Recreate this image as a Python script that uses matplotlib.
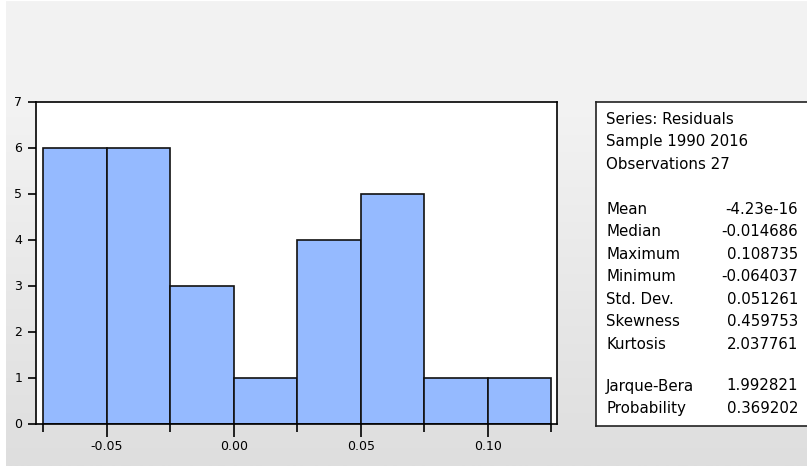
import matplotlib.pyplot as plt
import numpy as np
from matplotlib.colors import LinearSegmentedColormap

plt.rcParams['font.family'] = ['DejaVu Sans']

# histogram of residuals
bin_left = [-0.075, -0.050, -0.025, 0.000, 0.025, 0.050, 0.075, 0.100]
counts = [6, 6, 3, 1, 4, 5, 1, 1]
bin_width = 0.025

stat_names = ['Mean', 'Median', 'Maximum', 'Minimum', 'Std. Dev.',
              'Skewness', 'Kurtosis']
stat_values = ['-4.23e-16', '-0.014686', '0.108735', '-0.064037',
               '0.051261', '0.459753', '2.037761']
test_names = ['Jarque-Bera', 'Probability']
test_values = ['1.992821', '0.369202']
header = ['Series: Residuals', 'Sample 1990 2016', 'Observations 27']

W, H = 807, 466
fig = plt.figure(figsize=(W / 100, H / 100), dpi=100, facecolor='white')

# grey gradient backdrop, flat at the top and darker towards the bottom
bg = fig.add_axes([6 / W, 0, 1 - 6 / W, 1 - 1 / H], zorder=-10)
cmap = LinearSegmentedColormap.from_list(
    'g', [(0, '#f3f3f3'), (0.25, '#f2f2f2'), (1, '#dedede')])
grad = np.linspace(0, 1, 256).reshape(-1, 1)
bg.imshow(grad, aspect='auto', cmap=cmap, extent=[0, 1, 0, 1], origin='upper')
bg.axis('off')

def px(x0, y0, x1, y1):
    return [x0 / W, 1 - y1 / H, (x1 - x0) / W, (y1 - y0) / H]

ax = fig.add_axes(px(36, 101.5, 557, 423.5))
ax.bar(bin_left, counts, width=bin_width, align='edge', color='#95baff',
       edgecolor='#111111', linewidth=1.2)
ax.set_xlim(-0.0778, 0.1273)
ax.set_ylim(0, 7)
ax.set_yticks(range(8))
ax.set_xticks([-0.05, 0.0, 0.05, 0.10])
ax.set_xticklabels(['-0.05', '0.00', '0.05', '0.10'])
ax.set_xticks([-0.075, -0.025, 0.025, 0.075, 0.125], minor=True)
ax.tick_params(axis='x', which='major', length=9, width=1.2, labelsize=9, pad=3)
ax.tick_params(axis='x', which='minor', length=6, width=1.2)
ax.tick_params(axis='y', length=6, width=1.2, labelsize=9, pad=4)
for s in ax.spines.values():
    s.set_linewidth(1.2)
ax.set_facecolor('white')

# statistics panel
box = fig.add_axes(px(596, 102, 820, 426))
box.set_xlim(596, 820)
box.set_ylim(426, 102)
box.set_xticks([])
box.set_yticks([])
for s in box.spines.values():
    s.set_linewidth(1.2)
    s.set_color('#222222')

fs = 10.8
y = 119
for line in header:
    box.text(606, y, line, fontsize=fs, va='center', ha='left')
    y += 22.5
y = 209
for n, v in zip(stat_names, stat_values):
    box.text(606, y, n, fontsize=fs, va='center', ha='left')
    box.text(798, y, v, fontsize=fs, va='center', ha='right')
    y += 22.5
y = 386
for n, v in zip(test_names, test_values):
    box.text(606, y, n, fontsize=fs, va='center', ha='left')
    box.text(798, y, v, fontsize=fs, va='center', ha='right')
    y += 22.5

fig.savefig('out.png', dpi=100, facecolor='white')
